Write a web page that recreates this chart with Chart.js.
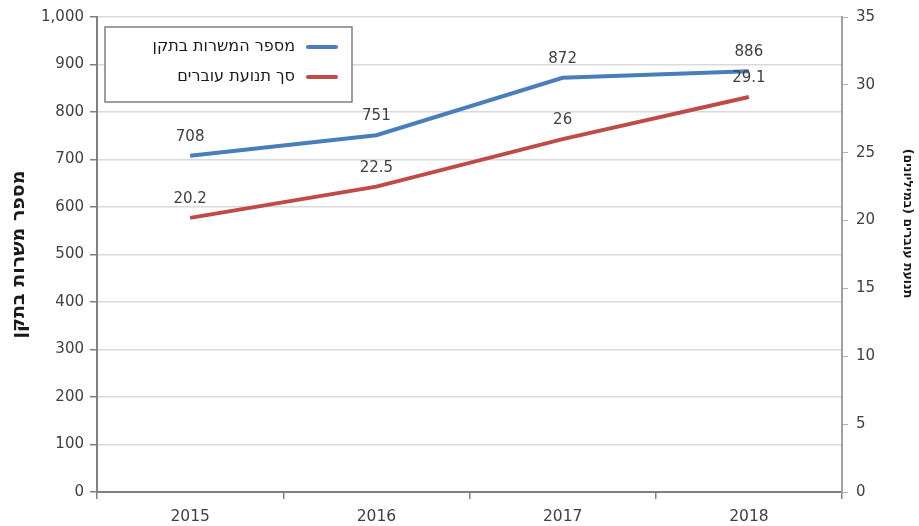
<!DOCTYPE html>
<html><head><meta charset="utf-8">
<script src="https://cdn.jsdelivr.net/npm/chart.js@4/dist/chart.umd.min.js"></script>
<style>html,body{margin:0;padding:0;background:#fff;overflow:hidden}#wrap{width:919px;height:526px;position:relative}</style>
</head><body><div id="wrap"><canvas id="c" width="919" height="526"></canvas></div>
<script>
const years = ['2015','2016','2017','2018'];
const positions = [708, 751, 872, 886];
const passengers = [20.2, 22.5, 26, 29.1];
const seriesNames = ['מספר המשרות בתקן', 'סך תנועת עוברים'];
const leftTitle = 'מספר משרות בתקן';
const rightTitle = 'תנועת עוברים (במיליונים)';

const FONT = 'DejaVu Sans';
const TXT = '#404040';

const labelPlugin = {
  id: 'pointLabels',
  afterDatasetsDraw(chart) {
    const ctx = chart.ctx;
    ctx.save();
    ctx.font = '15px "' + FONT + '"';
    ctx.fillStyle = TXT;
    ctx.textAlign = 'center';
    ctx.textBaseline = 'middle';
    chart.data.datasets.forEach((ds, i) => {
      chart.getDatasetMeta(i).data.forEach((pt, j) => {
        ctx.fillText(String(ds.data[j]), pt.x, pt.y - 19);
      });
    });
    ctx.restore();
  }
};

const legendPlugin = {
  id: 'boxLegend',
  afterDraw(chart) {
    const ctx = chart.ctx;
    const a = chart.chartArea;
    const x0 = a.left + 8, y0 = a.top + 10, w = 247, h = 75;
    ctx.save();
    ctx.fillStyle = '#fff';
    ctx.fillRect(x0, y0, w, h);
    ctx.strokeStyle = '#7f7f7f';
    ctx.lineWidth = 1.5;
    ctx.strokeRect(x0, y0, w, h);
    ctx.font = '16px "' + FONT + '"';
    ctx.fillStyle = '#1a1a1a';
    ctx.direction = 'rtl';
    ctx.textAlign = 'right';
    ctx.textBaseline = 'middle';
    chart.data.datasets.forEach((ds, i) => {
      const cy = y0 + 20 + i * 30;
      ctx.strokeStyle = ds.borderColor;
      ctx.lineWidth = 4;
      ctx.lineCap = 'round';
      ctx.beginPath();
      ctx.moveTo(x0 + w - 44, cy);
      ctx.lineTo(x0 + w - 16, cy);
      ctx.stroke();
      ctx.fillText(ds.label, x0 + w - 57, cy);
    });
    // right axis title
    ctx.font = 'bold 12.5px "' + FONT + '"';
    ctx.textAlign = 'center';
    ctx.translate(907, (a.top + a.bottom) / 2 - 31);
    ctx.rotate(Math.PI / 2);
    ctx.fillText(rightTitle, 0, 0);
    ctx.restore();
  }
};

new Chart(document.getElementById('c'), {
  type: 'line',
  data: {
    labels: years,
    datasets: [
      { label: seriesNames[0], data: positions, yAxisID: 'y', borderColor: '#4a7ebb', backgroundColor: '#4a7ebb', borderWidth: 4, pointRadius: 0, tension: 0 },
      { label: seriesNames[1], data: passengers, yAxisID: 'y1', borderColor: '#be4b48', backgroundColor: '#be4b48', borderWidth: 4, pointRadius: 0, tension: 0 }
    ]
  },
  options: {
    responsive: false,
    animation: false,
    layout: { padding: { top: 17, left: 0, right: 0, bottom: 0 } },
    plugins: { legend: { display: false }, tooltip: { enabled: false } },
    scales: {
      x: {
        offset: true,
        grid: { offset: true, drawOnChartArea: false, tickLength: 7, color: '#808080', lineWidth: 1.5 },
        border: { color: '#808080', width: 2 },
        ticks: { color: TXT, font: { family: FONT, size: 15.5 }, padding: 9 },
        afterFit(s) { s.height = 34; }
      },
      y: {
        position: 'left',
        min: 0, max: 1000,
        ticks: { stepSize: 100, color: TXT, font: { family: FONT, size: 15 }, padding: 6,
          callback: v => v.toLocaleString('en-US') },
        grid: { color: '#d9d9d9', lineWidth: 1.5, tickLength: 7, tickColor: '#808080' },
        border: { color: '#808080', width: 2 },
        title: { display: true, text: leftTitle, color: '#1a1a1a', font: { family: FONT, size: 19, weight: 'bold' }, padding: { top: 8, bottom: 0 } },
        afterFit(s) { s.width = 97; }
      },
      y1: {
        position: 'right',
        min: 0, max: 35,
        ticks: { stepSize: 5, color: TXT, font: { family: FONT, size: 15 }, padding: 8 },
        grid: { drawOnChartArea: false, tickLength: 6, color: '#b0b0b0' },
        border: { color: '#a0a0a0', width: 2 },
        afterFit(s) { s.width = 77; }
      }
    }
  },
  plugins: [labelPlugin, legendPlugin]
});
</script></body></html>
